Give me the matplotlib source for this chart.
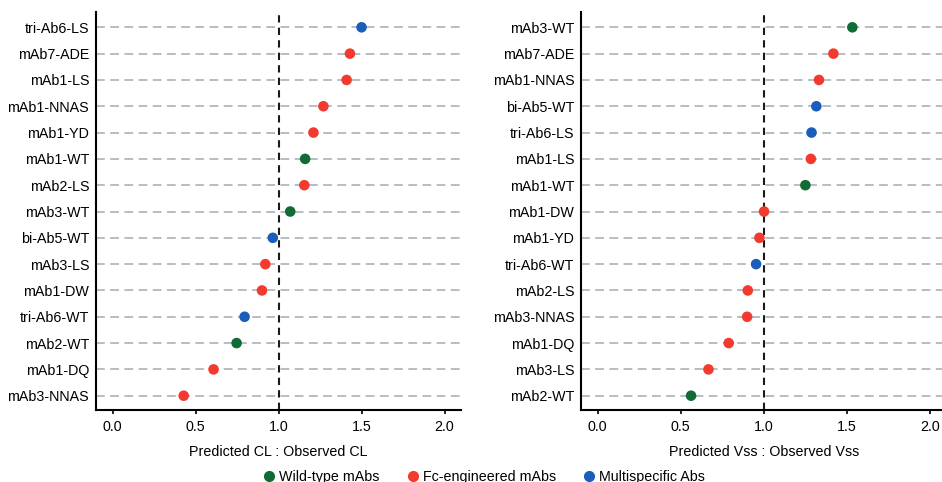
import matplotlib
matplotlib.use("Agg")
import matplotlib.pyplot as plt
from matplotlib.lines import Line2D

plt.rcParams['font.family'] = ['Liberation Sans', 'DejaVu Sans']

GREEN = '#116b35'
RED = '#f23a2e'
BLUE = '#1a5dbb'
colors = {'wt': GREEN, 'fc': RED, 'ms': BLUE}

# clearance panel (top to bottom)
cl_names = ['tri-Ab6-LS', 'mAb7-ADE', 'mAb1-LS', 'mAb1-NNAS', 'mAb1-YD', 'mAb1-WT',
            'mAb2-LS', 'mAb3-WT', 'bi-Ab5-WT', 'mAb3-LS', 'mAb1-DW', 'tri-Ab6-WT',
            'mAb2-WT', 'mAb1-DQ', 'mAb3-NNAS']
cl_vals = [1.50, 1.43, 1.41, 1.27, 1.21, 1.16, 1.155, 1.07, 0.965, 0.92, 0.90,
           0.795, 0.747, 0.608, 0.428]
cl_group = ['ms', 'fc', 'fc', 'fc', 'fc', 'wt', 'fc', 'wt', 'ms', 'fc', 'fc',
            'ms', 'wt', 'fc', 'fc']

# volume of distribution panel (top to bottom)
vss_names = ['mAb3-WT', 'mAb7-ADE', 'mAb1-NNAS', 'bi-Ab5-WT', 'tri-Ab6-LS', 'mAb1-LS',
             'mAb1-WT', 'mAb1-DW', 'mAb1-YD', 'tri-Ab6-WT', 'mAb2-LS', 'mAb3-NNAS',
             'mAb1-DQ', 'mAb3-LS', 'mAb2-WT']
vss_vals = [1.534, 1.42, 1.333, 1.317, 1.288, 1.284, 1.251, 1.002, 0.974, 0.954,
            0.904, 0.90, 0.789, 0.667, 0.562]
vss_group = ['wt', 'fc', 'fc', 'ms', 'ms', 'fc', 'wt', 'fc', 'fc', 'ms', 'fc', 'fc',
             'fc', 'fc', 'wt']

legend_labels = ['Wild-type mAbs', 'Fc-engineered mAbs', 'Multispecific Abs']

fig = plt.figure(figsize=(9.42, 4.82), dpi=100)
ax1 = fig.add_axes([0.102, 0.149, 0.3875, 0.826])
ax2 = fig.add_axes([0.617, 0.149, 0.3875, 0.826])


def panel(ax, names, vals, groups, xlabel):
    n = len(names)
    ys = list(range(n))[::-1]
    for y in ys:
        ax.axhline(y, color='#b4bec3', lw=1.4, ls=(0, (4.5, 2.8)), zorder=1)
    ax.axvline(1.0, color='#1a1a1a', lw=1.5, ls=(0, (3.5, 2.5)), zorder=2)
    ax.scatter(vals, ys, c=[colors[g] for g in groups], s=58, zorder=3,
               edgecolors='none')
    ax.set_yticks(ys)
    ax.set_yticklabels(names, fontsize=10.3)
    ax.set_ylim(-0.55, n - 1 + 0.58)
    ax.set_xlim(-0.1, 2.1)
    ax.set_xticks([0.0, 0.5, 1.0, 1.5, 2.0])
    ax.set_xticklabels(['0.0', '0.5', '1.0', '1.5', '2.0'], fontsize=10.3)
    ax.set_xlabel(xlabel, fontsize=10.3, labelpad=8)
    ax.tick_params(axis='y', length=0, pad=5)
    ax.tick_params(axis='x', length=3, width=1.2, pad=4)
    for s in ['top', 'right']:
        ax.spines[s].set_visible(False)
    for s in ['left', 'bottom']:
        ax.spines[s].set_linewidth(1.5)


panel(ax1, cl_names, cl_vals, cl_group, 'Predicted CL : Observed CL')
panel(ax2, vss_names, vss_vals, vss_group, 'Predicted Vss : Observed Vss')

handles = [Line2D([], [], marker='o', ls='none', color=c, markersize=7)
           for c in [GREEN, RED, BLUE]]
fig.legend(handles, legend_labels, loc='lower center', bbox_to_anchor=(0.514, -0.03),
           ncol=3, frameon=False, fontsize=10.3, handlelength=0.8,
           handletextpad=0.3, columnspacing=1.9)

fig.savefig('out.png', dpi=100)
